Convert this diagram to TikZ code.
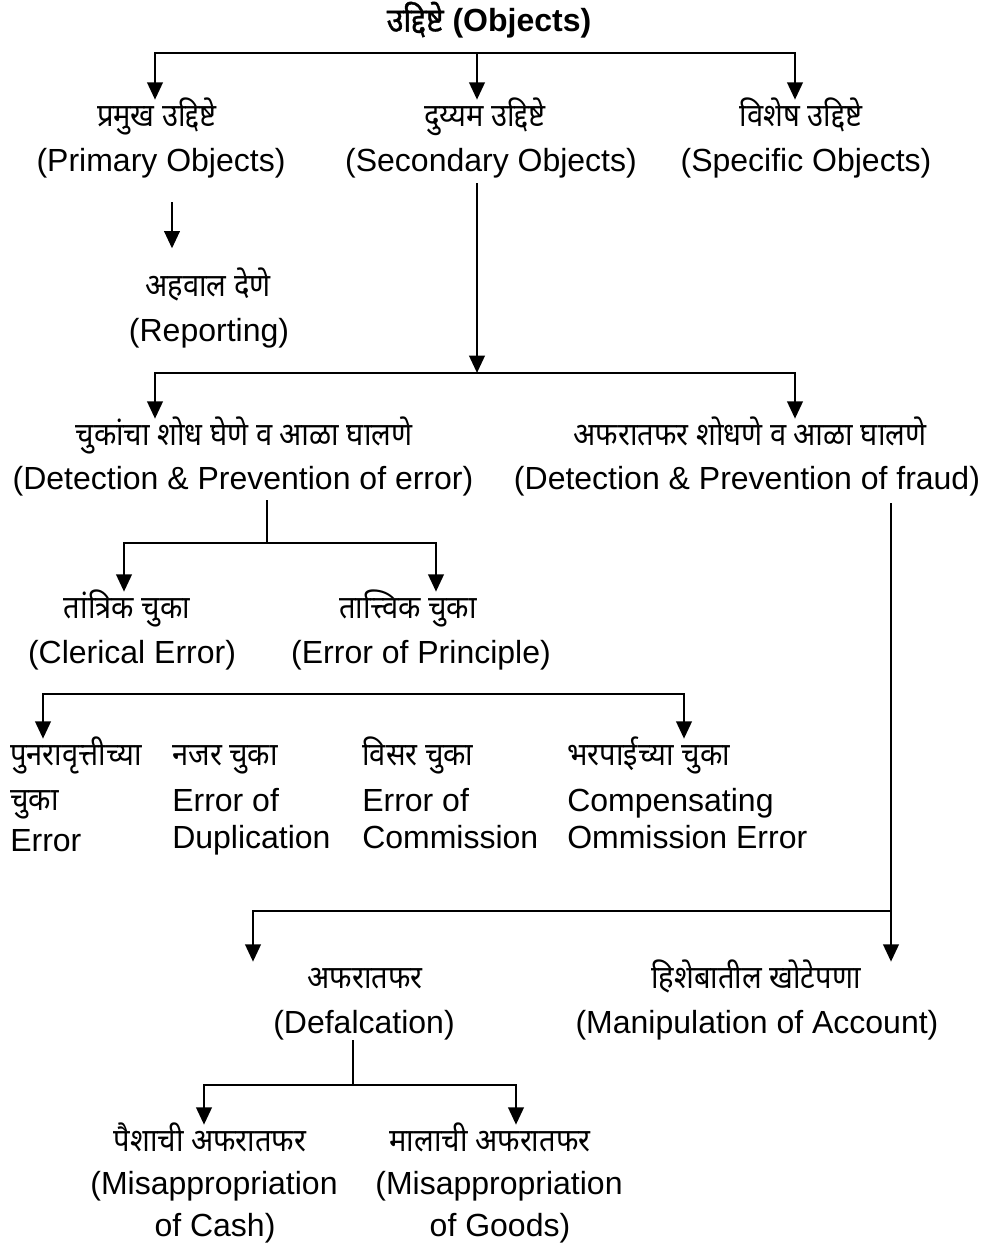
\documentclass[tikz,border=0pt]{standalone}
\usepackage{fontspec}
\setmainfont{Liberation Sans}
\newfontfamily\deva[Script=Devanagari,FakeStretch=0.91]{Noto Sans}
\newfontfamily\devab[Script=Devanagari,FakeStretch=0.91,FakeBold=1.2]{Noto Sans}
\usetikzlibrary{arrows.meta}
\begin{document}
\begin{tikzpicture}[x=0.75pt,y=-0.75pt,
  lat/.style={font=\fontsize{24}{28}\selectfont, inner sep=0pt, text height=17pt, text depth=5pt},
  dev/.style={font=\deva\fontsize{24}{30}\selectfont, inner sep=0pt, text height=19.5pt, text depth=7.5pt},
  ttl/.style={font=\bfseries\fontsize{24}{28}\selectfont, inner sep=0pt},
  ln/.style={line width=2.1pt},
  arr/.style={line width=2.1pt, -{Triangle[length=13pt,width=11.5pt]}},
  arrb/.style={line width=2.1pt, {Triangle[length=13pt,width=11.5pt]}-{Triangle[length=13pt,width=11.5pt]}},
]
\useasboundingbox (0,0) rectangle (985,1254);
% title
\node[ttl] (obj) at (489,20) {{\devab\fontsize{25}{30}\selectfont उद्दिष्टे} (Objects)};
% level 1
\node[dev] (pri) at (157,118) {प्रमुख उद्दिष्टे};
\node[lat] (priE) at (161,163) {(Primary Objects)};
\node[dev] (sec) at (485,118) {दुय्यम उद्दिष्टे};
\node[lat] (secE) at (491,163) {(Secondary Objects)};
\node[dev] (spe) at (801,118) {विशेष उद्दिष्टे};
\node[lat] (speE) at (806,163) {(Specific Objects)};
\node[dev] (rep) at (208,288) {अहवाल देणे};
\node[lat] (repE) at (209,333) {(Reporting)};
% level 2
\node[dev] (err) at (244,437) {चुकांचा शोध घेणे व आळा घालणे};
\node[lat] (errE) at (243,481) {(Detection \& Prevention of error)};
\node[dev] (fra) at (750,437) {अफरातफर शोधणे व आळा घालणे};
\node[lat] (fraE) at (747,481) {(Detection \& Prevention of fraud)};
% level 3
\node[dev] (cle) at (127,610) {तांत्रिक चुका};
\node[lat] (cleE) at (132,655) {(Clerical Error)};
\node[dev] (prn) at (408,610) {तात्त्विक चुका};
\node[lat] (prnE) at (421,655) {(Error of Principle)};
% level 4
\node[dev,anchor=west] (dup) at (10,757) {पुनरावृत्तीच्या};
\node[dev,anchor=west] (dupA) at (10,802) {चुका};
\node[lat,anchor=west] (dupB) at (10,843) {Error};
\node[dev,anchor=west] (naj) at (172,757) {नजर चुका};
\node[lat,anchor=west] (najA) at (172,803) {Error of};
\node[lat,anchor=west] (najB) at (172,840) {Duplication};
\node[dev,anchor=west] (vis) at (362,757) {विसर चुका};
\node[lat,anchor=west] (visA) at (362,803) {Error of};
\node[lat,anchor=west] (visB) at (362,840) {Commission};
\node[dev,anchor=west] (bha) at (567,757) {भरपाईच्या चुका};
\node[lat,anchor=west] (bhaA) at (567,803) {Compensating};
\node[lat,anchor=west] (bhaB) at (567,840) {Ommission Error};
% level 5
\node[dev] (def) at (365,980) {अफरातफर};
\node[lat] (defE) at (364,1025) {(Defalcation)};
\node[dev] (man) at (756,980) {हिशेबातील खोटेपणा};
\node[lat] (manE) at (757,1025) {(Manipulation of Account)};
% level 6
\node[dev] (cash) at (210,1143) {पैशाची अफरातफर};
\node[lat] (cashE) at (214,1186) {(Misappropriation};
\node[lat] (cashF) at (215,1228) {of Cash)};
\node[dev] (gds) at (490,1143) {मालाची अफरातफर};
\node[lat] (gdsE) at (499,1186) {(Misappropriation};
\node[lat] (gdsF) at (500,1228) {of Goods)};
% connectors
\coordinate (t1) at (155,53); \coordinate (t2) at (477,53); \coordinate (t3) at (795,53);
\draw[arr] (t2) -- (t1) -- (t1 |- pri.north);
\draw[arr] (t2) -- (t3) -- (t3 |- spe.north);
\draw[arr] (t2) -- (t2 |- sec.north);
\coordinate (r0) at (172,202);
\draw[arr, shorten >=16pt] (r0) -- (r0 |- rep.north);
\coordinate (s0) at (477,183); \coordinate (m2) at (477,373);
\coordinate (u1) at (155,373); \coordinate (u3) at (795,373);
\draw[arr] (s0) -- (m2);
\draw[arr] (m2) -- (u1) -- (u1 |- err.north);
\draw[arr] (m2) -- (u3) -- (u3 |- fra.north);
\coordinate (e0) at (267,500); \coordinate (e1) at (267,543);
\coordinate (e2) at (124,543); \coordinate (e3) at (436,543);
\draw[ln] (e0) -- (e1);
\draw[arr] (e1) -- (e2) -- (e2 |- cle.north);
\draw[arr] (e1) -- (e3) -- (e3 |- prn.north);
\coordinate (f1) at (43,694); \coordinate (f2) at (684,694);
\draw[arrb] (f1 |- dup.north) -- (f1) -- (f2) -- (f2 |- bha.north);
\coordinate (g0) at (891,503); \coordinate (g1) at (891,911); \coordinate (g2) at (253,911);
\draw[arr] (g0) -- (g0 |- man.north);
\draw[arr] (g1) -- (g2) -- (g2 |- def.north);
\coordinate (h0) at (353,1040); \coordinate (h1) at (353,1085);
\coordinate (h2) at (204,1085); \coordinate (h3) at (516,1085);
\draw[ln] (h0) -- (h1);
\draw[arr] (h1) -- (h2) -- (h2 |- cash.north);
\draw[arr] (h1) -- (h3) -- (h3 |- gds.north);
\end{tikzpicture}
\end{document}
